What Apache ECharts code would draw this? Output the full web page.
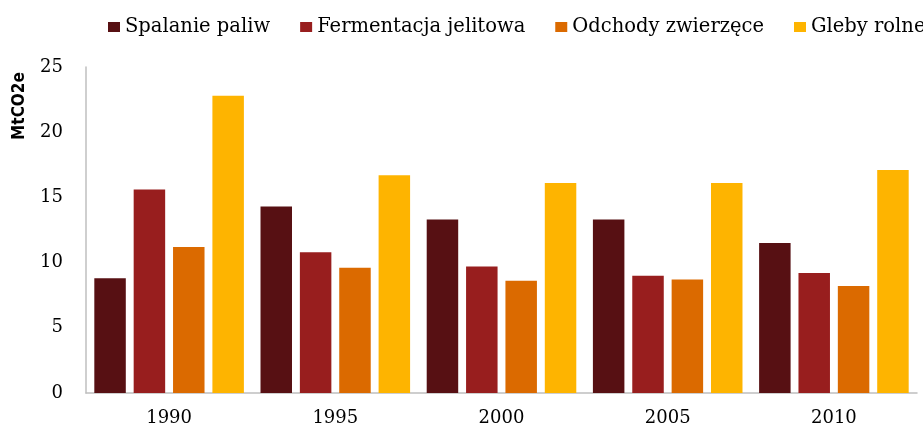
<!DOCTYPE html>
<html>
<head>
<meta charset="utf-8">
<script src="https://cdn.jsdelivr.net/npm/echarts@6/dist/echarts.min.js"></script>
<style>
  html, body { margin: 0; padding: 0; background: #fff; }
  #chart { width: 923px; height: 427px; }
</style>
</head>
<body>
<div id="chart"></div>
<script>
var years = ['1990', '1995', '2000', '2005', '2010'];
var seriesNames = ['Spalanie paliw', 'Fermentacja jelitowa', 'Odchody zwierzęce', 'Gleby rolne'];
// MtCO2e
var spalanie = [8.8, 14.3, 13.3, 13.3, 11.5];
var fermentacja = [15.6, 10.8, 9.7, 9.0, 9.2];
var odchody = [11.2, 9.6, 8.6, 8.7, 8.2];
var gleby = [22.8, 16.7, 16.1, 16.1, 17.1];
var colors = ['#571013', '#981e1e', '#db6a00', '#feb400'];

var chart = echarts.init(document.getElementById('chart'));
var values = [spalanie, fermentacja, odchody, gleby];

var series = [];
for (var i = 0; i < seriesNames.length; i++) {
  series.push({
    name: seriesNames[i],
    type: 'bar',
    data: values[i],
    barGap: '25%',
    barCategoryGap: '10%',
    itemStyle: { color: colors[i] }
  });
}

var option = {
  animation: false,
  color: colors,
  legend: {
    left: 103,
    top: 12,
    width: 818,
    itemWidth: 12,
    itemHeight: 10,
    itemGap: 30,
    icon: 'rect',
    textStyle: {
      fontFamily: 'DejaVu Serif',
      fontSize: 19.5,
      color: '#000'
    },
    data: seriesNames
  },
  grid: { left: 86, right: 6, top: 67, bottom: 30 },
  xAxis: {
    type: 'category',
    data: years,
    axisLine: { lineStyle: { color: '#bfbfbf', width: 1.5 } },
    axisTick: { show: false },
    axisLabel: {
      margin: 16,
      fontFamily: 'DejaVu Serif',
      fontSize: 18,
      color: '#000'
    }
  },
  yAxis: {
    type: 'value',
    min: 0,
    max: 25,
    interval: 5,
    axisLine: { show: true, lineStyle: { color: '#bfbfbf', width: 1.5 } },
    axisTick: { show: false },
    splitLine: { show: false },
    axisLabel: {
      margin: 23,
      fontFamily: 'DejaVu Serif',
      fontSize: 18,
      color: '#000'
    }
  },
  graphic: [{
    type: 'text',
    x: 20,
    y: 106,
    rotation: Math.PI / 2,
    style: {
      text: 'MtCO2e',
      fontFamily: 'DejaVu Sans Condensed',
      fontWeight: 'bold',
      fontSize: 17,
      fill: '#000',
      align: 'center',
      verticalAlign: 'middle'
    }
  }],
  series: series
};
chart.setOption(option);
</script>
</body>
</html>
